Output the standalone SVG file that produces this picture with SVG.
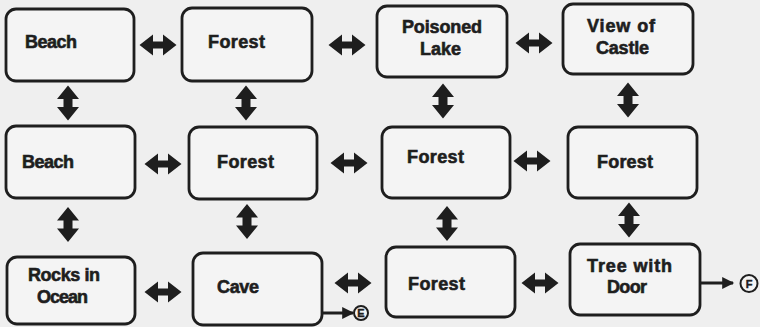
<svg xmlns="http://www.w3.org/2000/svg" xmlns:xlink="http://www.w3.org/1999/xlink" width="760" height="327" viewBox="0 0 760 327">
<style>
.box{fill:#f4f4f4;stroke:#1e1e1e;stroke-width:2.8}
.lbl{font-family:"Liberation Sans",Arial,sans-serif;font-weight:bold;font-size:18px;fill:#1e1e1e;stroke:#1e1e1e;stroke-width:0.6}
.arr{fill:#1e1e1e}
.ln{stroke:#1e1e1e;stroke-width:3;fill:none}
.ex{fill:#f4f4f4;stroke:#1e1e1e;stroke-width:2}
.ext{font-family:"Liberation Sans",Arial,sans-serif;font-weight:bold;font-size:11px;fill:#1e1e1e;stroke:#1e1e1e;stroke-width:0.4;text-anchor:middle}
</style>
<defs>
<path id="h" d="M-18.5,0 L-5,-10.5 L-5,-3.5 L5,-3.5 L5,-10.5 L18.5,0 L5,10.5 L5,3.5 L-5,3.5 L-5,10.5 Z"/>
<path id="v" d="M0,-17.5 L11,-4 L4.5,-4 L4.5,4 L11,4 L0,17.5 L-11,4 L-4.5,4 L-4.5,-4 L-11,-4 Z"/>
<marker id="ah" viewBox="0 0 10 10" refX="9" refY="5" markerWidth="4.5" markerHeight="4" orient="auto" markerUnits="strokeWidth">
<path d="M0,0 L10,5 L0,10 Z" fill="#1e1e1e"/>
</marker>
</defs>
<rect width="760" height="327" fill="#efefef"/>

<g id="n-beach1"><rect class="box" x="6" y="9" width="128" height="72" rx="10"/><text class="lbl" x="25" y="48" textLength="52">Beach</text></g>
<g id="n-forest1"><rect class="box" x="182" y="8" width="130" height="73" rx="10"/><text class="lbl" x="208" y="48" textLength="57">Forest</text></g>
<g id="n-poisoned"><rect class="box" x="377" y="6" width="130" height="71" rx="10"/><text class="lbl" x="402" y="33" textLength="80">Poisoned</text><text class="lbl" x="420" y="55" textLength="41">Lake</text></g>
<g id="n-view"><rect class="box" x="563" y="4" width="130" height="70" rx="10"/><text class="lbl" x="587" y="32" textLength="68">View of</text><text class="lbl" x="596" y="54" textLength="53">Castle</text></g>

<g id="n-beach2"><rect class="box" x="6" y="126" width="129" height="72" rx="10"/><text class="lbl" x="22" y="168" textLength="52">Beach</text></g>
<g id="n-forest2"><rect class="box" x="189" y="127" width="128" height="72" rx="10"/><text class="lbl" x="217" y="168" textLength="57">Forest</text></g>
<g id="n-forest3"><rect class="box" x="382" y="127" width="128" height="71" rx="10"/><text class="lbl" x="407" y="163" textLength="57">Forest</text></g>
<g id="n-forest4"><rect class="box" x="568" y="127" width="129" height="71" rx="10"/><text class="lbl" x="597" y="168" textLength="56">Forest</text></g>

<g id="n-rocks"><rect class="box" x="7" y="257" width="128" height="67" rx="10"/><text class="lbl" x="28" y="281" textLength="72">Rocks in</text><text class="lbl" x="37" y="303" textLength="51">Ocean</text></g>
<g id="n-cave"><rect class="box" x="193" y="253" width="129" height="72" rx="10"/><text class="lbl" x="217" y="293" textLength="42">Cave</text></g>
<g id="n-forest5"><rect class="box" x="386" y="247" width="129" height="70" rx="10"/><text class="lbl" x="408" y="290" textLength="57">Forest</text></g>
<g id="n-tree"><rect class="box" x="570" y="244" width="130" height="71" rx="10"/><text class="lbl" x="587" y="272" textLength="85">Tree with</text><text class="lbl" x="607" y="293" textLength="40">Door</text></g>

<g id="connectors" class="arr">
<use xlink:href="#h" x="158" y="45"/>
<use xlink:href="#h" x="347" y="45"/>
<use xlink:href="#h" x="534" y="43"/>
<use xlink:href="#h" x="163" y="164"/>
<use xlink:href="#h" x="349" y="163"/>
<use xlink:href="#h" x="532" y="161"/>
<use xlink:href="#h" x="163" y="292"/>
<use xlink:href="#h" x="353" y="283"/>
<use xlink:href="#h" x="540" y="283"/>
<use xlink:href="#v" x="68" y="103"/>
<use xlink:href="#v" x="246" y="103"/>
<use xlink:href="#v" x="443" y="101"/>
<use xlink:href="#v" x="628" y="100"/>
<use xlink:href="#v" x="68" y="224.5"/>
<use xlink:href="#v" x="247" y="221.5"/>
<use xlink:href="#v" x="447" y="223.5"/>
<use xlink:href="#v" x="629" y="220"/>
<line class="ln" x1="322" y1="313" x2="353" y2="313" marker-end="url(#ah)"/>
<line class="ln" x1="700" y1="283" x2="733" y2="283" marker-end="url(#ah)"/>
</g>

<g id="exit-e"><circle class="ex" cx="361" cy="313" r="7"/><text class="ext" x="361" y="317">E</text></g>
<g id="exit-f"><circle class="ex" cx="749" cy="283.5" r="8.5"/><text class="ext" x="749" y="287.5">F</text></g>
</svg>
